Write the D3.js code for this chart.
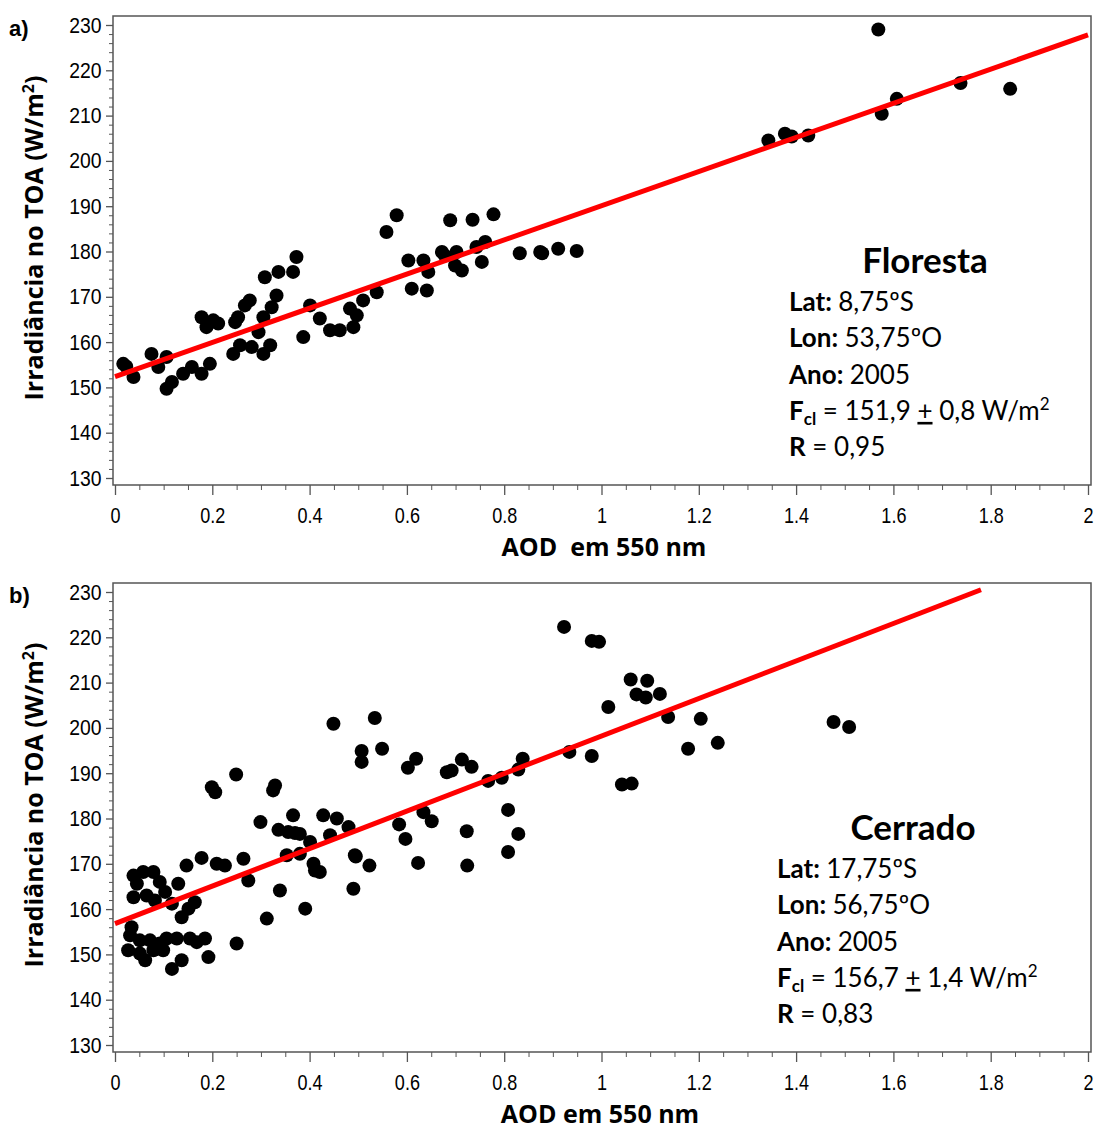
<!DOCTYPE html>
<html>
<head>
<meta charset="utf-8">
<script src="https://cdn.jsdelivr.net/npm/d3@7"></script>
<style>
body { margin: 0; background: #fff; }
</style>
</head>
<body>
<script>
// Floresta (panel a)
var aodFloresta = [0.017,0.023,0.038,0.075,0.089,0.106,0.106,0.117,0.140,0.158,0.178,0.195,
  0.178,0.188,0.202,0.212,0.247,0.253,0.267,0.277,0.243,0.257,0.281,0.295,0.305,0.319,0.305,
  0.322,0.332,0.308,0.336,0.366,0.373,0.401,0.387,0.421,0.442,0.462,0.483,0.490,0.497,0.510,
  0.538,0.558,0.579,0.689,0.735,0.778,0.603,0.634,0.644,0.610,0.641,0.672,0.678,0.702,0.699,
  0.713,0.743,0.761,0.754,0.832,0.874,0.878,0.911,0.949,1.569,1.343,1.377,1.391,1.425,1.607,
  1.576,1.738,1.840];
var irrFloresta = [155.2,154.6,152.3,157.4,154.5,156.7,149.7,151.2,153.0,154.5,153.0,155.2,
  165.5,163.3,164.8,164.1,164.4,165.5,168.1,169.2,157.4,159.3,158.9,162.2,165.5,159.3,157.4,
  167.7,170.3,174.3,175.5,175.5,178.8,168.1,161.1,165.2,162.6,162.6,167.4,163.3,165.9,169.2,
  171.0,184.3,188.0,186.9,187.0,188.2,178.0,178.0,175.5,171.8,171.4,179.9,179.1,179.9,176.9,
  175.8,181.0,182.1,177.7,179.6,179.9,179.6,180.6,180.1,229.0,204.5,206.0,205.4,205.6,213.7,
  210.4,217.2,215.9];

// Cerrado (panel b)
var aodCerrado = [0.038,0.058,0.079,0.045,0.092,0.038,0.065,0.082,0.103,0.117,0.130,0.147,
  0.178,0.209,0.226,0.264,0.274,0.137,0.151,0.164,0.034,0.031,0.027,0.051,0.072,0.051,0.062,
  0.079,0.092,0.106,0.099,0.127,0.154,0.168,0.185,0.137,0.117,0.192,0.250,0.312,0.339,0.391,
  0.353,0.380,0.408,0.421,0.490,0.493,0.411,0.199,0.206,0.249,0.329,0.325,0.299,0.336,0.366,
  0.356,0.370,0.380,0.401,0.428,0.456,0.442,0.480,0.449,0.534,0.507,0.507,0.549,0.495,0.523,
  0.584,0.597,0.602,0.619,0.623,0.634,0.651,0.682,0.692,0.713,0.733,0.723,0.724,0.767,0.795,
  0.808,0.829,0.808,0.829,0.838,0.923,0.980,0.995,1.060,1.094,1.072,1.091,1.120,1.014,1.137,
  1.204,0.934,0.980,1.178,1.239,1.042,1.062,1.477,1.509];
var irrCerrado = [167.4,168.2,168.2,165.6,166.0,162.6,163.0,161.9,163.8,161.2,165.6,169.6,
  171.3,170.0,169.6,171.1,166.3,158.2,160.1,161.5,156.0,154.2,150.9,153.1,153.1,150.2,148.7,
  150.9,152.4,153.5,150.9,153.5,153.5,152.7,153.5,148.7,146.8,149.4,152.4,157.9,164.1,160.1,
  171.9,172.2,170.0,168.2,164.5,171.9,168.5,186.9,185.8,189.7,187.3,186.2,179.2,177.5,180.7,
  177.0,176.8,176.6,174.8,180.7,180.0,176.3,178.1,200.9,202.2,194.9,192.5,195.4,171.6,169.6,
  178.7,175.5,191.2,193.2,170.2,181.4,179.4,190.2,190.6,193.0,191.4,177.2,169.6,188.3,189.0,
  181.9,176.6,172.6,190.8,193.2,222.3,219.2,219.0,210.7,210.4,207.4,206.7,207.5,204.6,202.4,
  202.0,194.7,193.8,195.4,196.7,187.5,187.7,201.3,200.2];

// fitted lines: intercept, slope, x extent
var fitFloresta = [152.4, 37.7, 0, 2];
var fitCerrado = [156.8, 41.4, 0, 1.78];

var xTicks = [0, 0.2, 0.4, 0.6, 0.8, 1, 1.2, 1.4, 1.6, 1.8, 2];
var yTicks = [130, 140, 150, 160, 170, 180, 190, 200, 210, 220, 230];

var textFloresta = ["Floresta", "8,75ºS", "53,75ºO", "2005", "151,9", "0,8", "0,95"];
var textCerrado = ["Cerrado", "17,75ºS", "56,75ºO", "2005", "156,7", "1,4", "0,83"];

var svg = d3.select("body").append("svg")
  .attr("width", 1094)
  .attr("height", 1129)
  .style("display", "block");

var tickFont = "'Liberation Sans', Arial, sans-serif";
var labelFont = "'Open Sans', 'Noto Sans', sans-serif";
var noteFont = "Lato, 'Open Sans', sans-serif";

var drawPanel = function(cfg)
{
  var left = 113, right = 1091;
  var x = d3.scaleLinear().domain([0, 2]).range([115, 1088]);
  var y = d3.scaleLinear().domain([130, 230]).range([cfg.top + 462, cfg.top + 9]);
  var bottom = cfg.top + 469;

  var g = svg.append("g");

  // frame
  g.append("rect")
    .attr("x", left).attr("y", cfg.top)
    .attr("width", right - left).attr("height", bottom - cfg.top)
    .attr("fill", "none")
    .attr("stroke", "#555")
    .attr("stroke-width", 1.5);

  // y axis minor + major
  var yMinor = d3.range(130, 231, 2).filter(function(v) { return v % 10 != 0; });
  g.append("g")
    .attr("transform", "translate(" + left + ",0)")
    .call(d3.axisLeft(y).tickValues(yMinor).tickSize(4).tickFormat(""))
    .call(function(a) { a.select(".domain").remove(); a.selectAll("line").attr("stroke", "#555"); });
  var yAx = g.append("g")
    .attr("transform", "translate(" + left + ",0)")
    .call(d3.axisLeft(y).tickValues(yTicks).tickSize(7).tickPadding(6))
    .call(function(a) { a.select(".domain").remove(); a.selectAll("line").attr("stroke", "#555").attr("stroke-width", 1.3); });
  yAx.selectAll("text")
    .attr("font-family", tickFont)
    .attr("font-size", 22)
    .attr("fill", "#000")
    .attr("transform", "scale(0.88,1)");

  // x axis minor + major
  var xMinor = d3.range(0, 41).map(function(i) { return i * 0.05; }).filter(function(v, i) { return i % 4 != 0; });
  g.append("g")
    .attr("transform", "translate(0," + bottom + ")")
    .call(d3.axisBottom(x).tickValues(xMinor).tickSize(5).tickFormat(""))
    .call(function(a) { a.select(".domain").remove(); a.selectAll("line").attr("stroke", "#555"); });
  var xAx = g.append("g")
    .attr("transform", "translate(0," + bottom + ")")
    .call(d3.axisBottom(x).tickValues(xTicks).tickSize(10).tickPadding(12).tickFormat(d3.format("")))
    .call(function(a) { a.select(".domain").remove(); a.selectAll("line").attr("stroke", "#555").attr("stroke-width", 1.3); });
  xAx.selectAll("text")
    .attr("font-family", tickFont)
    .attr("font-size", 22)
    .attr("fill", "#000")
    .attr("transform", "scale(0.82,1)");

  // points
  g.selectAll("circle.pt")
    .data(cfg.xs)
    .enter()
    .append("circle")
    .attr("class", "pt")
    .attr("cx", function(d) { return x(d); })
    .attr("cy", function(d, i) { return y(cfg.ys[i]); })
    .attr("r", 7)
    .attr("fill", "#000");

  // fit line
  var f = cfg.fit;
  g.append("line")
    .attr("x1", x(f[2])).attr("y1", y(f[0] + f[1] * f[2]))
    .attr("x2", x(f[3])).attr("y2", y(f[0] + f[1] * f[3]))
    .attr("stroke", "#f00")
    .attr("stroke-width", 5);

  // axis titles
  g.append("text")
    .attr("x", cfg.xTitleX)
    .attr("y", bottom + 71)
    .attr("text-anchor", "middle")
    .attr("font-family", labelFont)
    .attr("font-weight", "bold")
    .attr("font-size", 25)
    .attr("fill", "#000")
    .attr("xml:space", "preserve")
    .text(cfg.xTitle);

  var yt = g.append("text")
    .attr("transform", "translate(43," + (cfg.top + 222) + ") rotate(-90)")
    .attr("text-anchor", "middle")
    .attr("font-family", labelFont)
    .attr("font-weight", "bold")
    .attr("font-size", 25)
    .attr("fill", "#000");
  yt.append("tspan").text("Irradiância no TOA (W/m");
  yt.append("tspan").attr("dy", -9).attr("font-size", 16).text("2");
  yt.append("tspan").attr("dy", 9).text(")");

  // panel letter
  g.append("text")
    .attr("x", 9).attr("y", cfg.top + 20)
    .attr("font-family", tickFont)
    .attr("font-weight", "bold")
    .attr("font-size", 22)
    .attr("fill", "#000")
    .text(cfg.letter);

  // annotation
  var t = cfg.note;
  g.append("text")
    .attr("x", cfg.noteX + 136).attr("y", cfg.top + cfg.noteTop)
    .attr("text-anchor", "middle")
    .attr("font-family", noteFont)
    .attr("font-weight", "bold")
    .attr("font-size", 35)
    .attr("fill", "#000")
    .text(t[0]);

  var lines = [["Lat: ", t[1]], ["Lon: ", t[2]], ["Ano: ", t[3]]];
  lines.forEach(function(l, i)
  {
    var tx = g.append("text")
      .attr("x", cfg.noteX).attr("y", cfg.top + cfg.noteTop + 38 + i * 36.3)
      .attr("font-family", noteFont)
      .attr("font-size", 26)
      .attr("fill", "#000");
    tx.append("tspan").attr("font-weight", "bold").text(l[0]);
    tx.append("tspan").text(l[1]);
  });

  var fy = cfg.top + cfg.noteTop + 38 + 3 * 36.3;
  var ft = g.append("text")
    .attr("x", cfg.noteX).attr("y", fy)
    .attr("font-family", noteFont)
    .attr("font-size", 26)
    .attr("fill", "#000");
  ft.append("tspan").attr("font-weight", "bold").text("F");
  ft.append("tspan").attr("font-weight", "bold").attr("font-size", 17).attr("dy", 5).text("cl");
  ft.append("tspan").attr("dy", -5).text(" = " + t[4] + " ");
  ft.append("tspan").attr("text-decoration", "underline").text("+");
  ft.append("tspan").text(" " + t[5] + " W/m");
  ft.append("tspan").attr("font-size", 17).attr("dy", -10).text("2");

  var rt = g.append("text")
    .attr("x", cfg.noteX).attr("y", fy + 36.3)
    .attr("font-family", noteFont)
    .attr("font-size", 26)
    .attr("fill", "#000");
  rt.append("tspan").attr("font-weight", "bold").text("R");
  rt.append("tspan").text(" = " + t[6]);
};

drawPanel({
  top: 16, xs: aodFloresta, ys: irrFloresta, fit: fitFloresta,
  letter: "a)", xTitle: "AOD  em 550 nm", xTitleX: 604,
  note: textFloresta, noteX: 789, noteTop: 257
});

drawPanel({
  top: 583, xs: aodCerrado, ys: irrCerrado, fit: fitCerrado,
  letter: "b)", xTitle: "AOD em 550 nm", xTitleX: 600,
  note: textCerrado, noteX: 777, noteTop: 257
});
</script>
</body>
</html>
